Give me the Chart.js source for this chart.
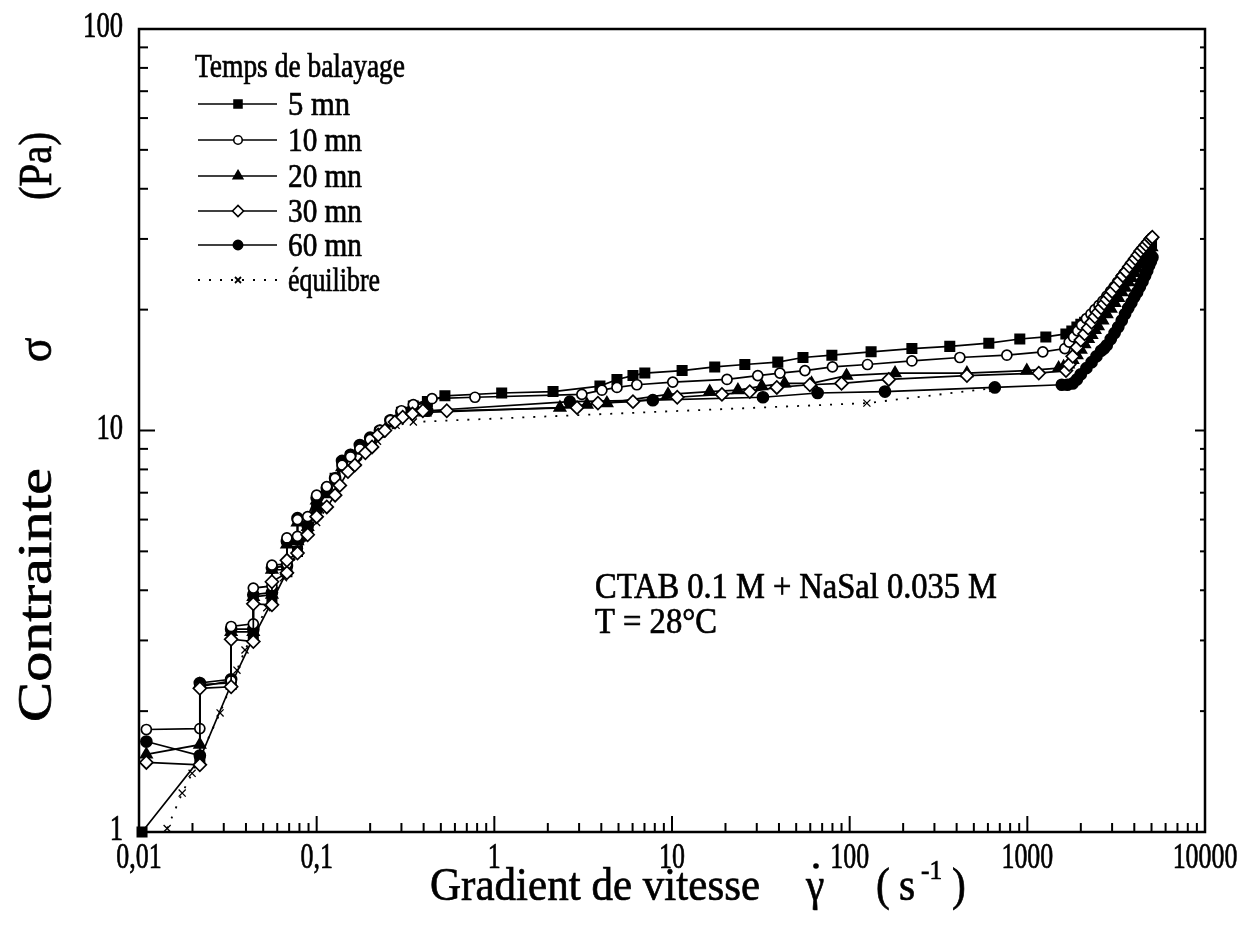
<!DOCTYPE html>
<html>
<head>
<meta charset="utf-8">
<script src="https://cdn.jsdelivr.net/npm/chart.js@4.4.0/dist/chart.umd.min.js"></script>
<style>
  html, body { margin: 0; padding: 0; background: #fff; }
  canvas { display: block; }
</style>
</head>
<body>
<canvas id="chart" width="1245" height="937"></canvas>
<script>
// === DATA ===
const seriesNames = ["5 mn", "10 mn", "20 mn", "30 mn", "60 mn", "équilibre"];

const x5 = [0.0104, 0.022, 0.033, 0.044, 0.056, 0.068, 0.078, 0.089, 0.1, 0.114, 0.127, 0.139, 0.155, 0.175, 0.2, 0.227, 0.26, 0.3, 0.35, 0.42,
  0.527, 1.1, 2.14, 3.93, 4.9, 6.03, 7.03, 11.4, 17.4, 25.7, 39.4, 54.6, 79.4, 132, 224, 366, 607, 907, 1271, 1648,
  1780, 1901, 2000, 2100, 2200, 2300, 2400, 2500, 2650, 2800, 2950, 3100, 3250, 3400, 3550, 3700, 3850, 4000, 4150, 4300, 4450, 4600, 4750, 4900, 5000];
const y5 = [1.0, 1.52, 2.33, 3.05, 3.75, 4.45, 5.0, 5.6, 6.4, 7.0, 7.6, 8.3, 8.6, 9.0, 9.4, 9.9, 10.5, 11.1, 11.5, 11.8,
  12.2, 12.4, 12.5, 12.9, 13.4, 13.7, 13.9, 14.1, 14.4, 14.6, 14.8, 15.2, 15.4, 15.7, 16.0, 16.2, 16.5, 16.9, 17.1, 17.4,
  17.7, 18.1, 18.4, 18.6, 18.9, 19.1, 19.4, 19.7, 20.1, 20.6, 21.2, 21.8, 22.4, 23.0, 23.6, 24.3, 24.9, 25.6, 26.2, 26.8, 27.4, 28.0, 28.5, 29.0, 29.3];

const x10 = [0.011, 0.022, 0.022, 0.033, 0.033, 0.044, 0.044, 0.056, 0.056, 0.068, 0.068, 0.078, 0.078, 0.089, 0.1, 0.114, 0.127, 0.139, 0.155, 0.175, 0.2, 0.227, 0.26, 0.3, 0.35,
  0.446, 0.778, 3.11, 4.03, 4.9, 6.34, 10.1, 20.4, 30.4, 40.5, 56, 80, 126, 224, 417, 767, 1222, 1626,
  1720, 1820, 1920, 2020, 2150, 2280, 2400, 2530, 2660, 2800, 2940, 3080, 3220, 3360, 3500, 3630, 3770, 3900, 4050, 4200, 4350, 4500, 4650, 4800, 4920, 5020];
const y10 = [1.80, 1.81, 2.30, 2.38, 3.25, 3.30, 4.05, 4.10, 4.62, 4.65, 5.40, 5.45, 6.00, 6.10, 6.90, 7.25, 7.60, 8.20, 8.60, 9.00, 9.50, 10.0, 10.6, 11.2, 11.6,
  12.0, 12.1, 12.3, 12.6, 12.8, 13.0, 13.2, 13.4, 13.7, 13.9, 14.1, 14.4, 14.6, 14.9, 15.2, 15.4, 15.7, 16.0,
  16.6, 17.1, 17.7, 18.3, 19.0, 19.5, 20.0, 20.5, 21.0, 21.6, 22.2, 22.8, 23.4, 24.0, 24.6, 25.1, 25.7, 26.2, 26.8, 27.4, 28.0, 28.5, 29.0, 29.5, 29.9, 30.2];

const x20 = [0.011, 0.022, 0.022, 0.033, 0.033, 0.044, 0.044, 0.056, 0.056, 0.068, 0.068, 0.078, 0.078, 0.089, 0.1, 0.114, 0.127, 0.139, 0.155, 0.175, 0.2, 0.227, 0.26, 0.3, 0.35,
  0.407, 2.34, 3.32, 4.3, 9.5, 16.3, 23.5, 32, 43, 61, 96, 180, 457, 993, 1500,
  1600, 1700, 1800, 1900, 2000, 2100, 2200, 2300, 2400, 2500, 2650, 2800, 2950, 3100, 3250, 3400, 3550, 3700, 3850, 4000, 4150, 4300, 4450, 4600, 4750, 4900, 5000];
const y20 = [1.56, 1.65, 2.33, 2.35, 3.15, 3.15, 3.85, 3.90, 4.50, 4.50, 5.20, 5.30, 5.90, 5.75, 6.70, 7.10, 7.50, 8.10, 8.60, 9.00, 9.40, 9.90, 10.5, 11.0, 11.2,
  11.1, 11.4, 11.6, 11.7, 12.3, 12.5, 12.6, 12.9, 13.1, 13.1, 13.7, 13.9, 13.9, 14.1, 14.3,
  14.4, 14.6, 15.0, 15.4, 15.9, 16.4, 16.9, 17.3, 17.8, 18.2, 18.8, 19.5, 20.1, 20.8, 21.4, 22.1, 22.7, 23.4, 24.0, 24.7, 25.3, 26.0, 26.6, 27.2, 27.7, 28.2, 28.6];

const x30 = [0.011, 0.022, 0.022, 0.033, 0.033, 0.044, 0.044, 0.056, 0.056, 0.068, 0.068, 0.078, 0.089, 0.1, 0.114, 0.127, 0.135, 0.15, 0.164, 0.188, 0.205, 0.222, 0.242, 0.276, 0.305, 0.346, 0.396,
  0.54, 2.92, 3.83, 6.03, 10.7, 19.1, 27.4, 38.9, 59.7, 90, 166, 457, 1160, 1650,
  1720, 1800, 1900, 2000, 2100, 2200, 2300, 2400, 2500, 2600, 2700, 2800, 2900, 3000, 3150, 3300, 3450, 3600, 3750, 3900, 4050, 4200, 4350, 4500, 4650, 4800, 4950, 5050];
const y30 = [1.49, 1.47, 2.28, 2.30, 3.02, 2.98, 3.70, 3.68, 4.20, 4.42, 4.75, 4.95, 5.50, 6.10, 6.45, 6.90, 7.30, 7.90, 8.20, 8.80, 9.10, 9.75, 10.0, 10.5, 10.8, 11.0, 11.2,
  11.2, 11.4, 11.7, 11.8, 12.1, 12.3, 12.5, 12.8, 13.0, 13.1, 13.4, 13.7, 13.9, 14.1,
  14.6, 15.3, 16.1, 16.8, 17.4, 18.0, 18.6, 19.2, 19.7, 20.2, 20.7, 21.2, 21.7, 22.2, 22.9, 23.6, 24.3, 24.9, 25.6, 26.2, 26.8, 27.4, 28.0, 28.5, 29.0, 29.5, 30.0, 30.3];

const x60 = [0.011, 0.022, 0.022, 0.033, 0.033, 0.044, 0.044, 0.056, 0.056, 0.068, 0.068, 0.078, 0.078, 0.089, 0.1, 0.114, 0.127, 0.139, 0.155, 0.175, 0.2, 0.227, 0.26, 0.3, 0.35, 0.42,
  2.66, 7.8, 32.5, 66, 158, 656, 1563,
  1680, 1800, 1900, 2000, 2150, 2300, 2450, 2600, 2700, 2800, 2950, 3100, 3250, 3400, 3550, 3700, 3850, 4000, 4150, 4300, 4450, 4600, 4730, 4850, 4960, 5060];
const y60 = [1.68, 1.55, 2.35, 2.40, 3.20, 3.20, 3.90, 3.95, 4.55, 4.60, 5.30, 5.35, 6.05, 5.80, 6.80, 7.20, 7.60, 8.40, 8.70, 9.20, 9.60, 10.0, 10.6, 11.1, 11.3, 11.2,
  11.8, 11.9, 12.1, 12.4, 12.5, 12.8, 13.0,
  13.0, 13.1, 13.4, 13.8, 14.3, 14.8, 15.3, 15.8, 16.0, 16.3, 16.9, 17.5, 18.1, 18.8, 19.5, 20.2, 20.8, 21.5, 22.1, 22.8, 23.5, 24.3, 25.0, 25.8, 26.4, 27.0];

const xEq = [0.0144, 0.0175, 0.0199, 0.0286, 0.0356, 0.0395, 0.0524, 0.065, 0.08, 0.1, 0.13, 0.17, 0.22, 0.28, 0.35, 125, 640];
const yEq = [1.02, 1.25, 1.40, 1.98, 2.53, 2.84, 3.62, 4.3, 5.0, 5.9, 7.0, 8.3, 9.4, 10.3, 10.5, 11.7, 12.75];

const xTicks = [0.01, 0.1, 1, 10, 100, 1000, 10000];
const xTickLabels = ["0,01", "0,1", "1", "10", "100", "1000", "10000"];
const yTicks = [1, 10, 100];
const yTickLabels = ["1", "10", "100"];

// === STYLES ===
const FONT = '"Liberation Serif", "Times New Roman", serif';
const markers = [
  { pointStyle: "rect", radius: 6.6, fill: "#000" },
  { pointStyle: "circle", radius: 5, fill: "#fff" },
  { pointStyle: "triangle", radius: 6.5, fill: "#000" },
  { pointStyle: "rectRot", radius: 6.5, fill: "#fff" },
  { pointStyle: "circle", radius: 5.5, fill: "#000" },
  { pointStyle: "crossRot", radius: 5, fill: "#000" }
];

const pts = (xs, ys) => xs.map((v, i) => ({ x: v, y: ys[i] }));
const allData = [pts(x5, y5), pts(x10, y10), pts(x20, y20), pts(x30, y30), pts(x60, y60), pts(xEq, yEq)];

function makeSet(i) {
  const m = markers[i];
  const eq = i === 5;
  return {
    label: seriesNames[i],
    data: allData[i],
    showLine: true,
    tension: 0,
    clip: false,
    borderColor: "#000",
    borderWidth: eq ? 1.8 : 1.7,
    borderDash: eq ? [2, 9] : [],
    pointStyle: m.pointStyle,
    pointRadius: m.radius,
    pointBackgroundColor: m.fill,
    pointBorderColor: "#000",
    pointBorderWidth: eq ? 1.3 : 1.7
  };
}

// draw order: first dataset ends on top
const drawOrder = [3, 1, 0, 2, 4, 5];

function drawText(ctx, s, x, y, size, opt) {
  opt = opt || {};
  ctx.save();
  ctx.font = size + "px " + FONT;
  ctx.fillStyle = "#000";
  ctx.strokeStyle = "#000";
  ctx.lineWidth = 0.7;
  ctx.textBaseline = "alphabetic";
  ctx.textAlign = "left";
  const w = ctx.measureText(s).width;
  const sx = opt.width ? opt.width / w : (opt.sx || 1);
  ctx.translate(x, y);
  ctx.scale(sx, 1);
  let off = 0;
  if (opt.align === "center") off = -w / 2;
  else if (opt.align === "right") off = -w;
  ctx.fillText(s, off, 0);
  ctx.strokeText(s, off, 0);
  ctx.restore();
}

const framePlugin = {
  id: "frame",
  afterDraw(chart) {
    const { ctx, chartArea: a, scales } = chart;
    const xs = scales.x, ys = scales.y;
    ctx.save();
    ctx.strokeStyle = "#000";
    ctx.lineCap = "butt";

    // ticks (inward)
    ctx.lineWidth = 2;
    const tick = (x1, y1, x2, y2) => { ctx.beginPath(); ctx.moveTo(x1, y1); ctx.lineTo(x2, y2); ctx.stroke(); };
    xTicks.forEach((t, i) => {
      const px = xs.getPixelForValue(t);
      tick(px, a.bottom, px, a.bottom - 16);
      if (i < xTicks.length - 1) {
        for (let m = 2; m <= 9; m++) {
          const q = xs.getPixelForValue(t * m);
          tick(q, a.bottom, q, a.bottom - 9);
        }
      }
    });
    yTicks.forEach((t, i) => {
      const py = ys.getPixelForValue(t);
      tick(a.left, py, a.left + 16, py);
      tick(a.right, py, a.right - 10, py);
      if (i < yTicks.length - 1) {
        for (let m = 2; m <= 9; m++) {
          const q = ys.getPixelForValue(t * m);
          tick(a.left, q, a.left + 9, q);
          tick(a.right, q, a.right - 5, q);
        }
      }
    });

    // frame
    ctx.lineWidth = 2.5;
    ctx.strokeRect(a.left, a.top, a.right - a.left, a.bottom - a.top);

    // tick labels
    xTicks.forEach((t, i) => {
      drawText(ctx, xTickLabels[i], xs.getPixelForValue(t), a.bottom + 36, 35, { sx: 0.74, align: "center" });
    });
    yTicks.forEach((t, i) => {
      drawText(ctx, yTickLabels[i], a.left - 16, ys.getPixelForValue(t) + 8, 35, { sx: 0.76, align: "right" });
    });

    // x title
    drawText(ctx, "Gradient de vitesse", 430, 900, 47, { width: 330 });
    drawText(ctx, "γ", 806, 900, 46, { sx: 0.9 });
    ctx.fillStyle = "#000";
    ctx.beginPath(); ctx.arc(816, 866, 2.8, 0, Math.PI * 2); ctx.fill();
    drawText(ctx, "(", 876, 900, 46, { sx: 0.9 });
    drawText(ctx, "s", 899, 900, 46, { sx: 0.9 });
    drawText(ctx, "-1", 921, 879, 28, { sx: 0.9 });
    drawText(ctx, ")", 952, 900, 46, { sx: 0.9 });

    // y title (rotated)
    ctx.save();
    ctx.translate(51, 722);
    ctx.rotate(-Math.PI / 2);
    drawText(ctx, "Contrainte", 0, 0, 48, { width: 254 });
    drawText(ctx, "σ", 372, 0, 48, { align: "center", sx: 0.95 });
    drawText(ctx, "(Pa)", 522, 0, 46, { width: 68 });
    ctx.restore();

    // legend
    drawText(ctx, "Temps de balayage", 195, 77, 33, { width: 210 });
    const rowY = [104, 140, 176, 211, 245, 280];
    const labelW = [62, 74, 74, 74, 74, 92];
    const dp = Chart.helpers && Chart.helpers.drawPoint;
    for (let i = 0; i < 6; i++) {
      const y = rowY[i];
      const m = markers[i];
      ctx.lineWidth = i === 5 ? 1.8 : 1.6;
      ctx.setLineDash(i === 5 ? [2, 9] : []);
      ctx.strokeStyle = "#000";
      tick(198, y, 277, y);
      ctx.setLineDash([]);
      ctx.fillStyle = m.fill;
      ctx.strokeStyle = "#000";
      if (dp) dp(ctx, { pointStyle: m.pointStyle, radius: m.radius * 0.85, rotation: 0, borderWidth: i === 5 ? 1.3 : 1.6 }, 238, y);
      drawText(ctx, seriesNames[i], 288, y + 11, 33, { width: labelW[i] });
    }

    // annotation
    drawText(ctx, "CTAB 0.1 M + NaSal 0.035 M", 595, 598, 35, { width: 402 });
    drawText(ctx, "T = 28°C", 595, 633, 35, { width: 122 });

    ctx.restore();
  }
};

new Chart(document.getElementById("chart").getContext("2d"), {
  type: "scatter",
  data: { datasets: drawOrder.map(makeSet) },
  options: {
    responsive: false,
    animation: false,
    devicePixelRatio: 1,
    layout: { padding: { left: 139, top: 29, right: 40, bottom: 105 } },
    plugins: { legend: { display: false }, tooltip: { enabled: false } },
    scales: {
      x: { type: "logarithmic", min: 0.01, max: 10000, display: false },
      y: { type: "logarithmic", min: 1, max: 100, display: false }
    }
  },
  plugins: [framePlugin]
});
</script>
</body>
</html>
